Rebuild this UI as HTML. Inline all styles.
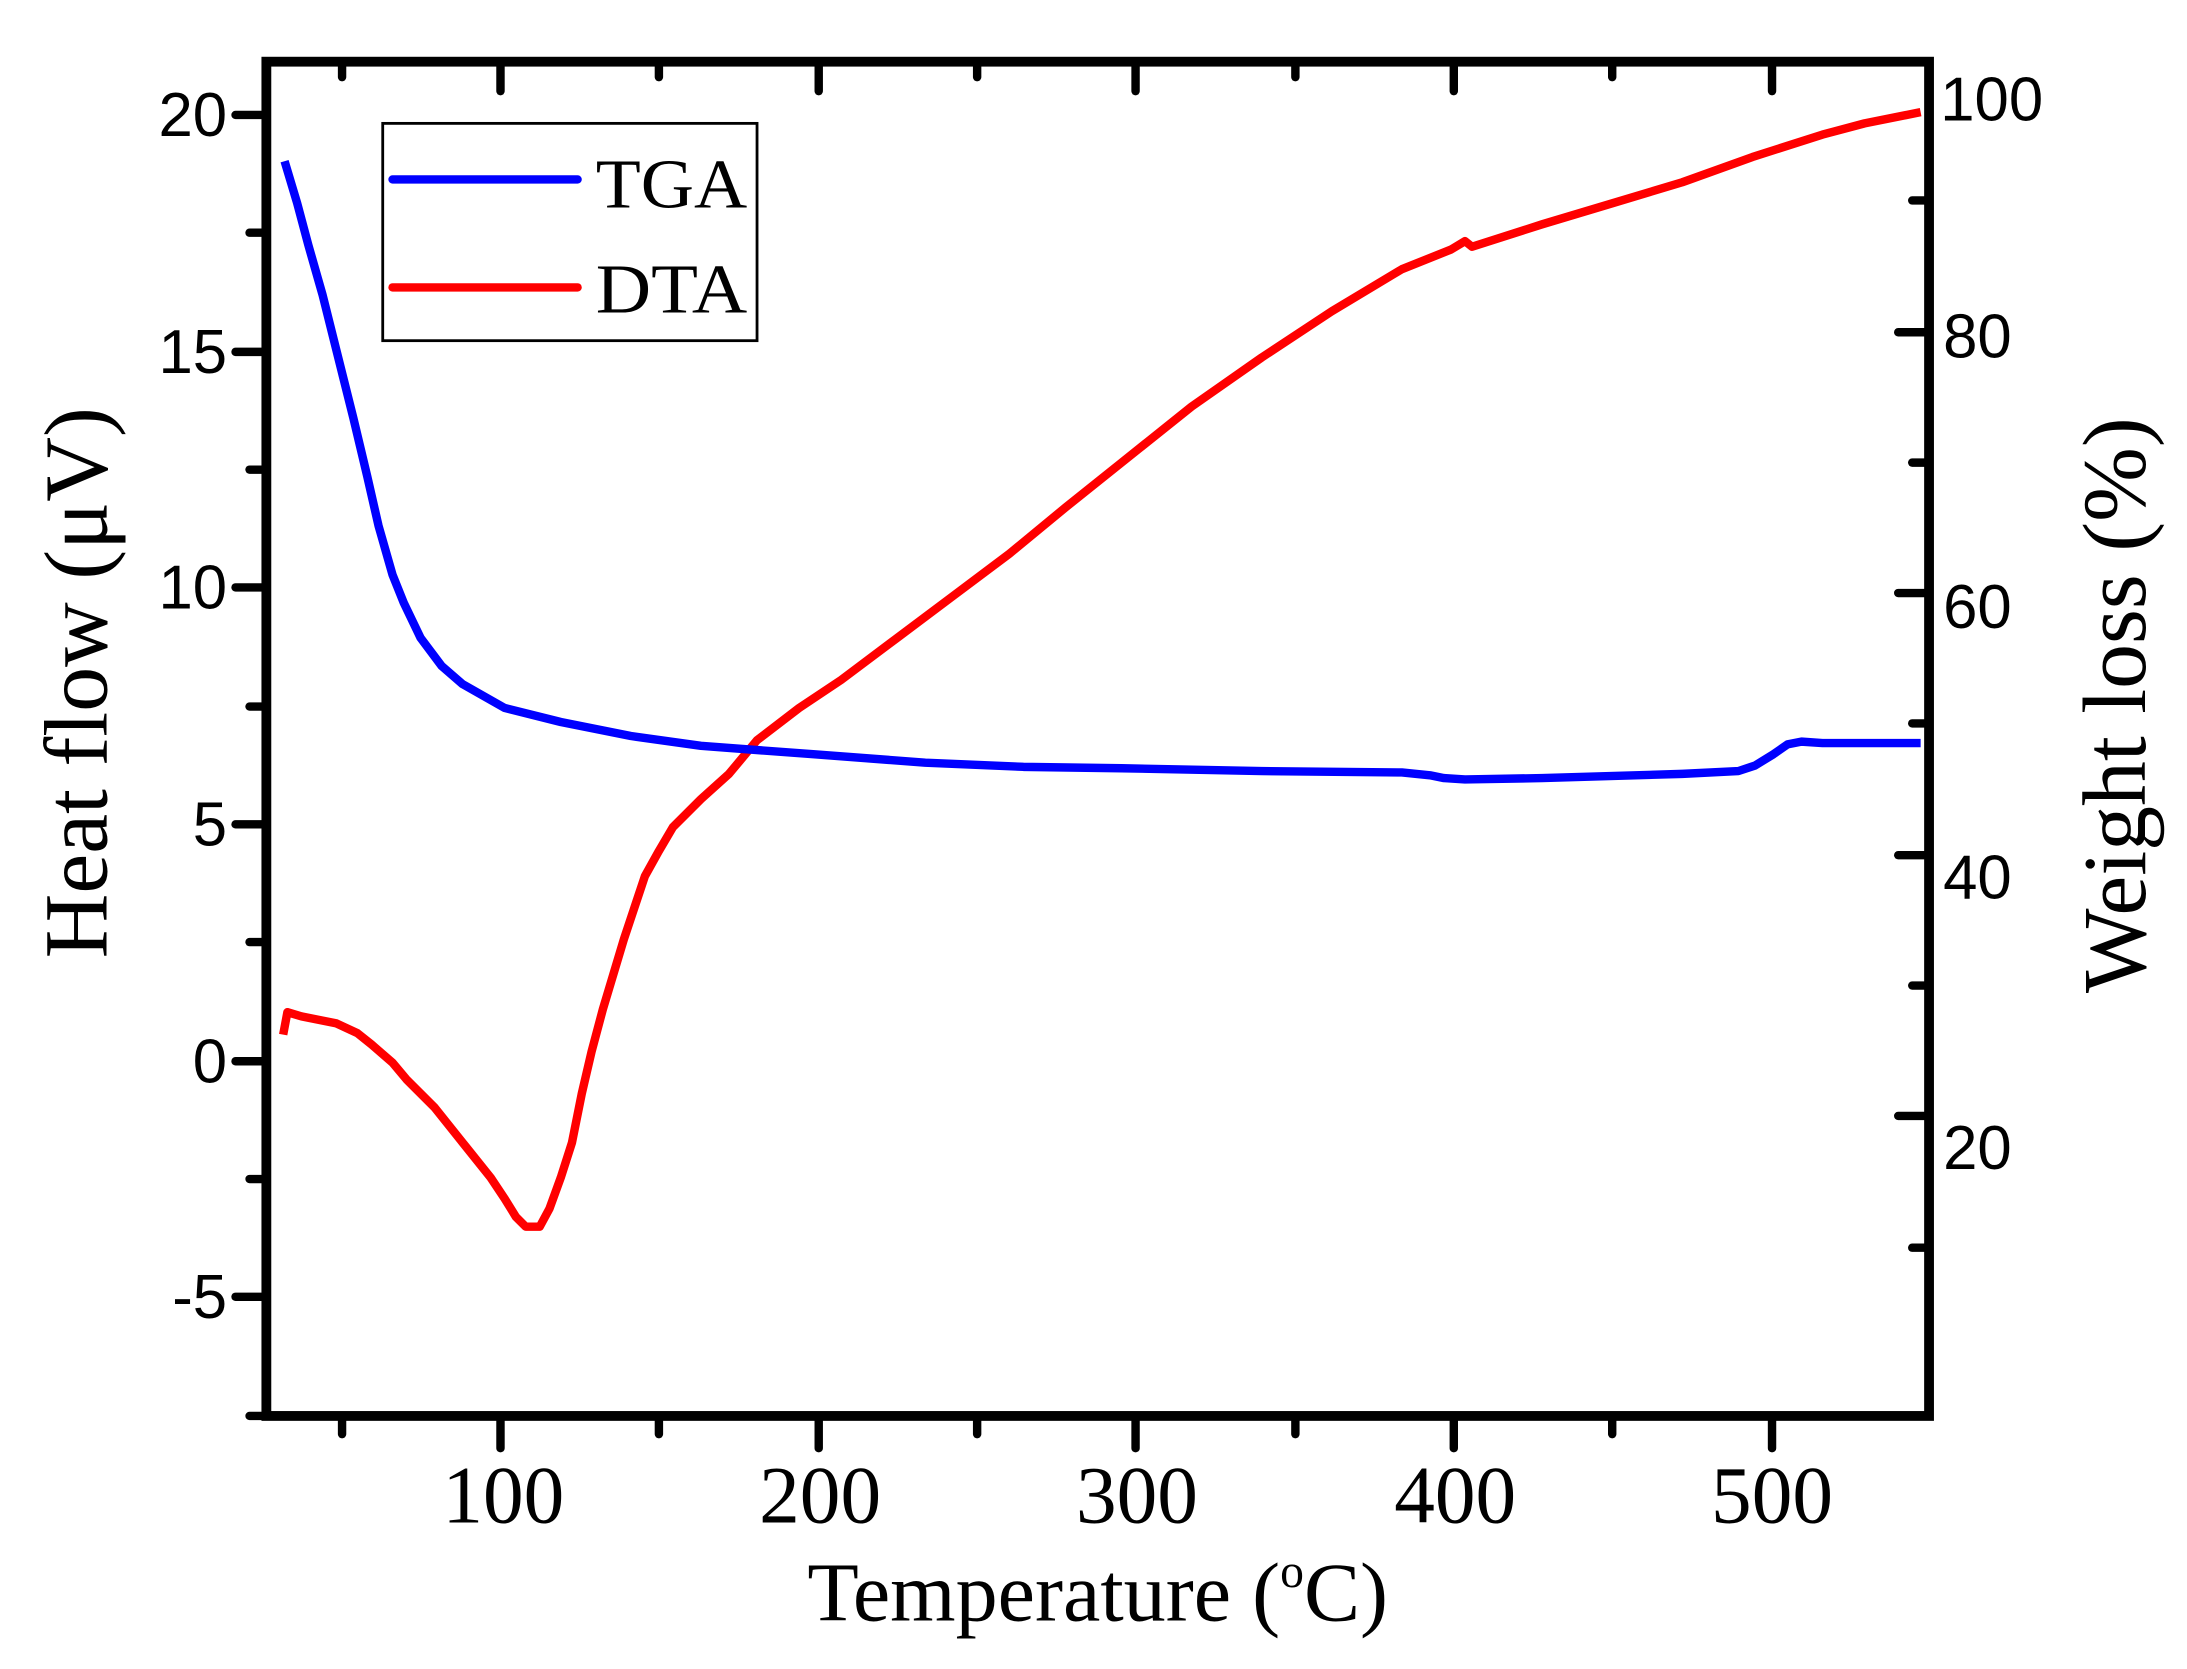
<!DOCTYPE html>
<html><head><meta charset="utf-8"><style>
html,body{margin:0;padding:0;background:#fff;}
svg{display:block;}
</style></head><body>
<svg width="2187" height="1669" viewBox="0 0 1560 1190.5" xmlns="http://www.w3.org/2000/svg">
<rect width="1560" height="1190.5" fill="#fff"/>
<g stroke="#000" stroke-width="6" stroke-linecap="round">
<line x1="244" y1="1012" x2="244" y2="1023"/>
<line x1="357" y1="1012" x2="357" y2="1033"/>
<line x1="470" y1="1012" x2="470" y2="1023"/>
<line x1="584" y1="1012" x2="584" y2="1033"/>
<line x1="697" y1="1012" x2="697" y2="1023"/>
<line x1="810" y1="1012" x2="810" y2="1033"/>
<line x1="924" y1="1012" x2="924" y2="1023"/>
<line x1="1037" y1="1012" x2="1037" y2="1033"/>
<line x1="1150" y1="1012" x2="1150" y2="1023"/>
<line x1="1264" y1="1012" x2="1264" y2="1033"/>
<line x1="244" y1="44" x2="244" y2="55"/>
<line x1="357" y1="44" x2="357" y2="65"/>
<line x1="470" y1="44" x2="470" y2="55"/>
<line x1="584" y1="44" x2="584" y2="65"/>
<line x1="697" y1="44" x2="697" y2="55"/>
<line x1="810" y1="44" x2="810" y2="65"/>
<line x1="924" y1="44" x2="924" y2="55"/>
<line x1="1037" y1="44" x2="1037" y2="65"/>
<line x1="1150" y1="44" x2="1150" y2="55"/>
<line x1="1264" y1="44" x2="1264" y2="65"/>
<line x1="168" y1="82" x2="190" y2="82"/>
<line x1="178" y1="166" x2="190" y2="166"/>
<line x1="168" y1="251" x2="190" y2="251"/>
<line x1="178" y1="335" x2="190" y2="335"/>
<line x1="168" y1="419" x2="190" y2="419"/>
<line x1="178" y1="504" x2="190" y2="504"/>
<line x1="168" y1="588" x2="190" y2="588"/>
<line x1="178" y1="672" x2="190" y2="672"/>
<line x1="168" y1="757" x2="190" y2="757"/>
<line x1="178" y1="841" x2="190" y2="841"/>
<line x1="168" y1="925" x2="190" y2="925"/>
<line x1="178" y1="1010" x2="190" y2="1010"/>
<line x1="1354" y1="237" x2="1376" y2="237"/>
<line x1="1364" y1="143" x2="1376" y2="143"/>
<line x1="1364" y1="330" x2="1376" y2="330"/>
<line x1="1354" y1="423" x2="1376" y2="423"/>
<line x1="1364" y1="516" x2="1376" y2="516"/>
<line x1="1354" y1="610" x2="1376" y2="610"/>
<line x1="1364" y1="703" x2="1376" y2="703"/>
<line x1="1354" y1="796" x2="1376" y2="796"/>
<line x1="1364" y1="890" x2="1376" y2="890"/>
</g>
<polyline fill="none" stroke="#f00" stroke-width="6" stroke-linejoin="round" points="202,738 205,722 215,725 240,730 255,737 265,745 280,758 290,770 300,780 310,790 330,815 350,840 360,855 368,868 375,875 385,875 392,862 400,840 408,815 415,780 422,750 430,720 445,670 460,625 470,607 480,590 490,580 500,570 520,552 540,528 570,505 600,485 640,455 680,425 720,395 760,362 800,330 850,290 900,255 950,222 1000,192 1035,178 1045,172 1050,176 1100,160 1150,145 1200,130 1250,112 1300,96 1330,88 1370,80"/>
<polyline fill="none" stroke="#00f" stroke-width="6" stroke-linejoin="round" points="203,115 212,145 220,175 230,210 240,250 252,298 262,340 270,375 280,410 288,430 300,455 315,475 330,488 360,505 400,515 450,525 500,532 580,538 660,544 730,547 800,548 900,550 1000,551 1020,553 1030,555 1045,556 1100,555 1200,552 1240,550 1252,546 1265,538 1275,531 1285,529 1300,530 1370,530"/>
<rect x="190" y="44" width="1186" height="966" fill="none" stroke="#000" stroke-width="7"/>
<rect x="273" y="88" width="267" height="155" fill="#fff" stroke="#000" stroke-width="2"/>
<line x1="280" y1="128" x2="412" y2="128" stroke="#00f" stroke-width="6" stroke-linecap="round"/>
<line x1="280" y1="205" x2="412" y2="205" stroke="#f00" stroke-width="6" stroke-linecap="round"/>
<g font-family="Liberation Serif, serif" font-size="50" fill="#000">
<text x="425" y="148" textLength="108" lengthAdjust="spacingAndGlyphs">TGA</text>
<text x="425" y="223" textLength="108" lengthAdjust="spacingAndGlyphs">DTA</text>
</g>
<g font-family="Liberation Sans, sans-serif" font-size="44" fill="#000" text-anchor="end">
<text x="162" y="97">20</text>
<text x="162" y="266">15</text>
<text x="162" y="434">10</text>
<text x="162" y="603">5</text>
<text x="162" y="772">0</text>
<text x="162" y="940">-5</text>
</g>
<g font-family="Liberation Sans, sans-serif" font-size="44" fill="#000">
<text x="1384" y="86">100</text>
<text x="1386" y="255">80</text>
<text x="1386" y="448">60</text>
<text x="1386" y="641">40</text>
<text x="1386" y="834">20</text>
</g>
<g font-family="Liberation Serif, serif" font-size="58" fill="#000" text-anchor="middle">
<text x="359" y="1086">100</text>
<text x="585" y="1086">200</text>
<text x="811" y="1086">300</text>
<text x="1038" y="1086">400</text>
<text x="1264" y="1086">500</text>
<text x="783" y="1156" font-size="60">Temperature (<tspan font-size="34" dy="-24">o</tspan><tspan dy="24">C)</tspan></text>
<text transform="translate(76,487) rotate(-90)" font-size="64">Heat flow (μV)</text>
<text transform="translate(1530,503) rotate(-90)" font-size="64">Weight loss (%)</text>
</g>
</svg>
</body></html>
